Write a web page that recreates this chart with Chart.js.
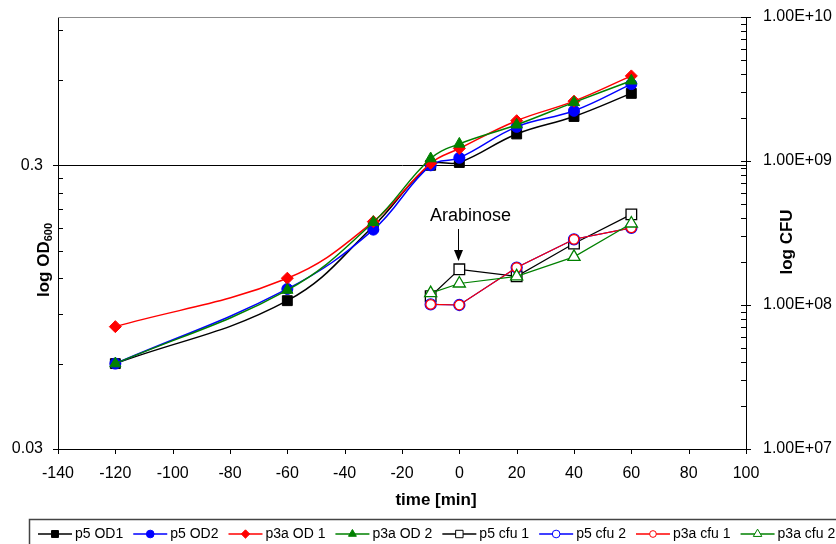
<!DOCTYPE html>
<html>
<head>
<meta charset="utf-8">
<script src="https://cdn.jsdelivr.net/npm/chart.js@4/dist/chart.umd.min.js"></script>
<style>
  html, body { margin: 0; padding: 0; background: #fff; }
  #wrap { width: 836px; height: 544px; }
</style>
</head>
<body>
<div id="wrap"><canvas id="growth" width="836" height="544"></canvas></div>
<script>
// OD readings (left axis), time in minutes
const odTimes = [-120, -60, -30, -10, 0, 20, 40, 60];
const p5OD1 = [0.060, 0.100, 0.183, 0.300, 0.307, 0.387, 0.446, 0.538];
const p5OD2 = [0.060, 0.110, 0.178, 0.300, 0.319, 0.410, 0.467, 0.580];
const p3aOD1 = [0.081, 0.120, 0.190, 0.305, 0.344, 0.431, 0.505, 0.620];
const p3aOD2 = [0.060, 0.109, 0.189, 0.317, 0.357, 0.417, 0.500, 0.596];

// CFU counts (right axis)
const cfuTimes = [-10, 0, 20, 40, 60];
const p5cfu1 = [1.15e8, 1.77e8, 1.58e8, 2.67e8, 4.26e8];
const p5cfu2 = [1.01e8, 1.00e8, 1.82e8, 2.86e8, 3.43e8];
const p3acfu1 = [1.01e8, 1.00e8, 1.82e8, 2.86e8, 3.43e8];
const p3acfu2 = [1.21e8, 1.41e8, 1.58e8, 2.16e8, 3.68e8];

const seriesNames = ['p5 OD1', 'p5 OD2', 'p3a OD 1', 'p3a OD 2', 'p5 cfu 1', 'p5 cfu 2', 'p3a cfu 1', 'p3a cfu 2'];

// axis ticks
const leftTickValues = [0.03, 0.3];
const leftTickLabels = ['0.03', '0.3'];
const leftMinorTicks = [0.06, 0.09, 0.12, 0.15, 0.18, 0.21, 0.24, 0.27, 0.6, 0.9];
const rightTickValues = [1e7, 1e8, 1e9, 1e10];
const rightTickLabels = ['1.00E+07', '1.00E+08', '1.00E+09', '1.00E+10'];
let rightMinorTicks = [];
for (let d = 1e7; d < 1e10; d *= 10) {
    for (let m = 2; m <= 9; m++) rightMinorTicks.push(m * d);
}

const FONT = 'Arial, "Liberation Sans", sans-serif';

const toPts = (xs, ys) => xs.map((x, i) => ({ x: x, y: ys[i] }));

function odSet(i, vals, color, style, radius) {
    return {
        label: seriesNames[i], data: toPts(odTimes, vals), yAxisID: 'y',
        borderColor: color, backgroundColor: color, borderWidth: 1.5,
        pointStyle: style, pointRadius: radius, pointHoverRadius: radius,
        pointBackgroundColor: color, pointBorderColor: color, pointBorderWidth: 1,
        tension: 0.4, order: 20 - i
    };
}

function cfuSet(i, vals, color, style, radius) {
    return {
        label: seriesNames[i], data: toPts(cfuTimes, vals), yAxisID: 'yR',
        borderColor: color, backgroundColor: '#fff', borderWidth: 1.2,
        pointStyle: style, pointRadius: radius, pointHoverRadius: radius,
        pointBackgroundColor: '#fff', pointBorderColor: color, pointBorderWidth: 1.3,
        tension: 0, order: 20 - i
    };
}

const datasets = [
    odSet(0, p5OD1, '#000000', 'rect', 7),
    odSet(1, p5OD2, '#0000ff', 'circle', 5.5),
    odSet(2, p3aOD1, '#ff0000', 'rectRot', 6),
    odSet(3, p3aOD2, '#008000', 'triangle', 6.5),
    cfuSet(4, p5cfu1, '#000000', 'rect', 7.5),
    cfuSet(5, p5cfu2, '#0000ff', 'circle', 5.5),
    cfuSet(6, p3acfu1, '#ff0000', 'circle', 4.8),
    cfuSet(7, p3acfu2, '#008000', 'triangle', 7)
];

function seg(ctx, x1, y1, x2, y2) {
    ctx.beginPath();
    ctx.moveTo(x1, y1);
    ctx.lineTo(x2, y2);
    ctx.stroke();
}

const extras = {
    id: 'extras',
    afterDraw(chart) {
        const ctx = chart.ctx, a = chart.chartArea;
        const sx = chart.scales.x, sy = chart.scales.y, sr = chart.scales.yR;
        ctx.save();
        ctx.lineWidth = 1;

        // plot area top edge
        ctx.strokeStyle = '#8c8c8c';
        seg(ctx, a.left, a.top + 0.5, a.right, a.top + 0.5);

        // tick marks
        ctx.strokeStyle = '#000';
        sx.ticks.forEach(t => {
            const p = Math.round(sx.getPixelForValue(t.value)) + 0.5;
            seg(ctx, p, a.bottom, p, a.bottom + 5);
        });
        leftTickValues.forEach(v => {
            const p = Math.round(sy.getPixelForValue(v)) + 0.5;
            seg(ctx, a.left - 5, p, a.left, p);
        });
        leftMinorTicks.forEach(v => {
            const p = Math.round(sy.getPixelForValue(v)) + 0.5;
            seg(ctx, a.left, p, a.left + 5, p);
        });
        rightTickValues.forEach(v => {
            const p = Math.round(sr.getPixelForValue(v)) + 0.5;
            seg(ctx, a.right - 5, p, a.right + 5, p);
        });
        rightMinorTicks.forEach(v => {
            const p = Math.round(sr.getPixelForValue(v)) + 0.5;
            seg(ctx, a.right - 5, p, a.right, p);
        });

        // axis titles
        ctx.fillStyle = '#000';
        ctx.textBaseline = 'middle';
        ctx.textAlign = 'center';
        ctx.font = 'bold 17px ' + FONT;
        ctx.fillText('time [min]', 436, 500);

        ctx.save();
        ctx.translate(44, 260);
        ctx.rotate(-Math.PI / 2);
        ctx.textAlign = 'left';
        ctx.font = 'bold 17px ' + FONT;
        const w1 = ctx.measureText('log OD').width;
        ctx.font = 'bold 11px ' + FONT;
        const w2 = ctx.measureText('600').width;
        ctx.font = 'bold 17px ' + FONT;
        ctx.fillText('log OD', -(w1 + w2) / 2, 0);
        ctx.font = 'bold 11px ' + FONT;
        ctx.fillText('600', -(w1 + w2) / 2 + w1, 5);
        ctx.restore();

        ctx.save();
        ctx.translate(787, 242);
        ctx.rotate(-Math.PI / 2);
        ctx.font = 'bold 17px ' + FONT;
        ctx.fillText('log CFU', 0, 0);
        ctx.restore();

        // Arabinose marker at t = 0
        const ax = Math.round(sx.getPixelForValue(0)) - 0.5;
        ctx.font = '18px ' + FONT;
        ctx.fillText('Arabinose', ax + 12, 216);
        seg(ctx, ax, 229, ax, 252);
        ctx.beginPath();
        ctx.moveTo(ax - 4.5, 250);
        ctx.lineTo(ax + 4.5, 250);
        ctx.lineTo(ax, 261);
        ctx.closePath();
        ctx.fill();

        // legend
        ctx.strokeStyle = '#444';
        ctx.lineWidth = 1.5;
        ctx.strokeRect(29.5, 519.5, 900, 60);
        ctx.font = '14px ' + FONT;
        ctx.textAlign = 'left';
        let x = 38;
        const y = 534;
        chart.data.datasets.forEach(ds => {
            ctx.strokeStyle = ds.borderColor;
            ctx.lineWidth = 1.5;
            seg(ctx, x, y, x + 34, y);
            ctx.fillStyle = ds.pointBackgroundColor;
            ctx.strokeStyle = ds.pointBorderColor;
            ctx.lineWidth = 1;
            if (Chart.helpers && Chart.helpers.drawPoint) {
                Chart.helpers.drawPoint(ctx, {
                    pointStyle: ds.pointStyle, rotation: 0,
                    radius: ds.pointRadius * 0.7, borderWidth: 1
                }, x + 17, y);
            }
            ctx.fillStyle = '#000';
            ctx.fillText(ds.label, x + 37, y);
            x += 37 + ctx.measureText(ds.label).width + 10;
        });
        ctx.restore();
    }
};

// keep label overflow from pushing the plot area around
function noOverflow(scale) {
    scale.paddingTop = 0;
    scale.paddingBottom = 0;
}

new Chart(document.getElementById('growth'), {
    type: 'line',
    data: { datasets: datasets },
    plugins: [extras],
    options: {
        responsive: false,
        animation: false,
        layout: { padding: { top: 17, left: 0, right: 0, bottom: 0 } },
        plugins: { legend: { display: false }, tooltip: { enabled: false } },
        scales: {
            x: {
                type: 'linear', min: -140, max: 100,
                ticks: { stepSize: 20, color: '#000', font: { family: FONT, size: 16 }, padding: 15, maxRotation: 0 },
                grid: { display: false, drawTicks: false },
                border: { display: true, color: '#000', width: 1 },
                afterFit(scale) { scale.height = 95; scale.paddingLeft = 0; scale.paddingRight = 0; }
            },
            y: {
                type: 'logarithmic', position: 'left', min: 0.03, max: 1,
                afterBuildTicks(scale) { scale.ticks = leftTickValues.map(v => ({ value: v })); },
                ticks: {
                    autoSkip: false, color: '#000', font: { family: FONT, size: 16 }, padding: 15,
                    callback: (v, i) => leftTickLabels[i]
                },
                grid: {
                    drawTicks: false, lineWidth: 1,
                    color: c => (c.tick && c.tick.value === 0.3 ? '#000' : 'rgba(0,0,0,0)')
                },
                border: { display: true, color: '#000', width: 1 },
                afterFit(scale) { scale.width = 58; noOverflow(scale); }
            },
            yR: {
                type: 'logarithmic', position: 'right', min: 1e7, max: 1e10,
                afterBuildTicks(scale) { scale.ticks = rightTickValues.map(v => ({ value: v })); },
                ticks: {
                    autoSkip: false, color: '#000', font: { family: FONT, size: 16 }, padding: 17,
                    callback: (v, i) => rightTickLabels[i]
                },
                grid: { display: false, drawTicks: false },
                border: { display: true, color: '#000', width: 1 },
                afterFit(scale) { scale.width = 90; noOverflow(scale); }
            }
        }
    }
});
</script>
</body>
</html>
